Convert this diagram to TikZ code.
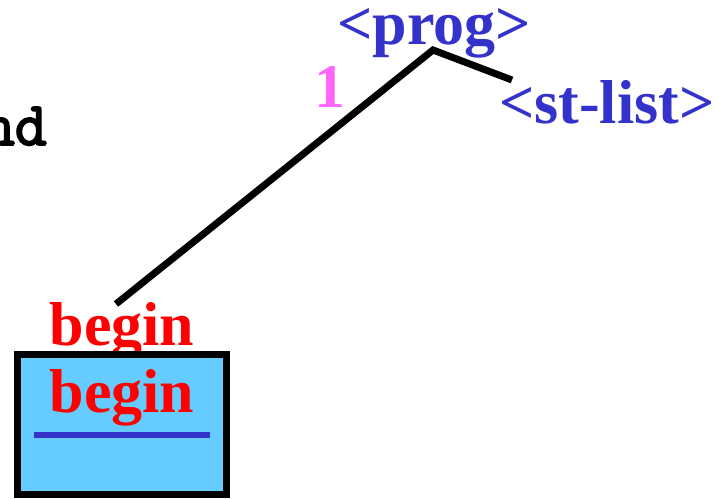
\documentclass[tikz,border=0pt]{standalone}
\usepackage{fontspec}
\setmainfont{Liberation Serif}
\newfontfamily\monob{Latin Modern Mono}[FakeBold=3]
\definecolor{ntblue}{HTML}{3333CC}
\definecolor{ntred}{HTML}{FF0000}
\definecolor{ntpink}{HTML}{FF66FF}
\definecolor{boxfill}{HTML}{66CCFF}
\tikzset{
  lbl/.style={inner sep=0pt, font=\bfseries\fontsize{62}{62}\selectfont},
  nonterm/.style={lbl, text=ntblue},
  term/.style={lbl, text=ntred},
  edge/.style={line width=7pt, line cap=butt, line join=miter},
  stackbox/.style={draw=black, line width=7pt, fill=boxfill, minimum width=209pt, minimum height=140pt, inner sep=0pt}
}
\begin{document}
\begin{tikzpicture}[x=1pt,y=-1pt]
\useasboundingbox (0,0) rectangle (717,498);
\node[inner sep=0pt, font=\monob\fontsize{62}{62}\selectfont, anchor=base east] (nd) at (47,145) {nd};
\node[nonterm, anchor=base] (prog) at (434,44) {<prog>};
\node[nonterm, anchor=base west] (stlist) at (499,123) {<st-list>};
\node[lbl, text=ntpink, anchor=base] (one) at (330,107) {1};
\node[term, anchor=base] (beginA) at (122,345) {begin};
\node[stackbox] (box) at (122,424.5) {};
\node[term, anchor=base] (beginB) at (122,412) {begin};
\coordinate (peak) at (433,50);
\coordinate (leafA) at (116,304);
\coordinate (leafB) at (512,80);
\draw[edge] (leafA) -- (peak) -- (leafB);
\coordinate (ulA) at (34,435);
\coordinate (ulB) at (210,435);
\draw[ntblue, line width=6pt] (ulA) -- (ulB);
\end{tikzpicture}
\end{document}
